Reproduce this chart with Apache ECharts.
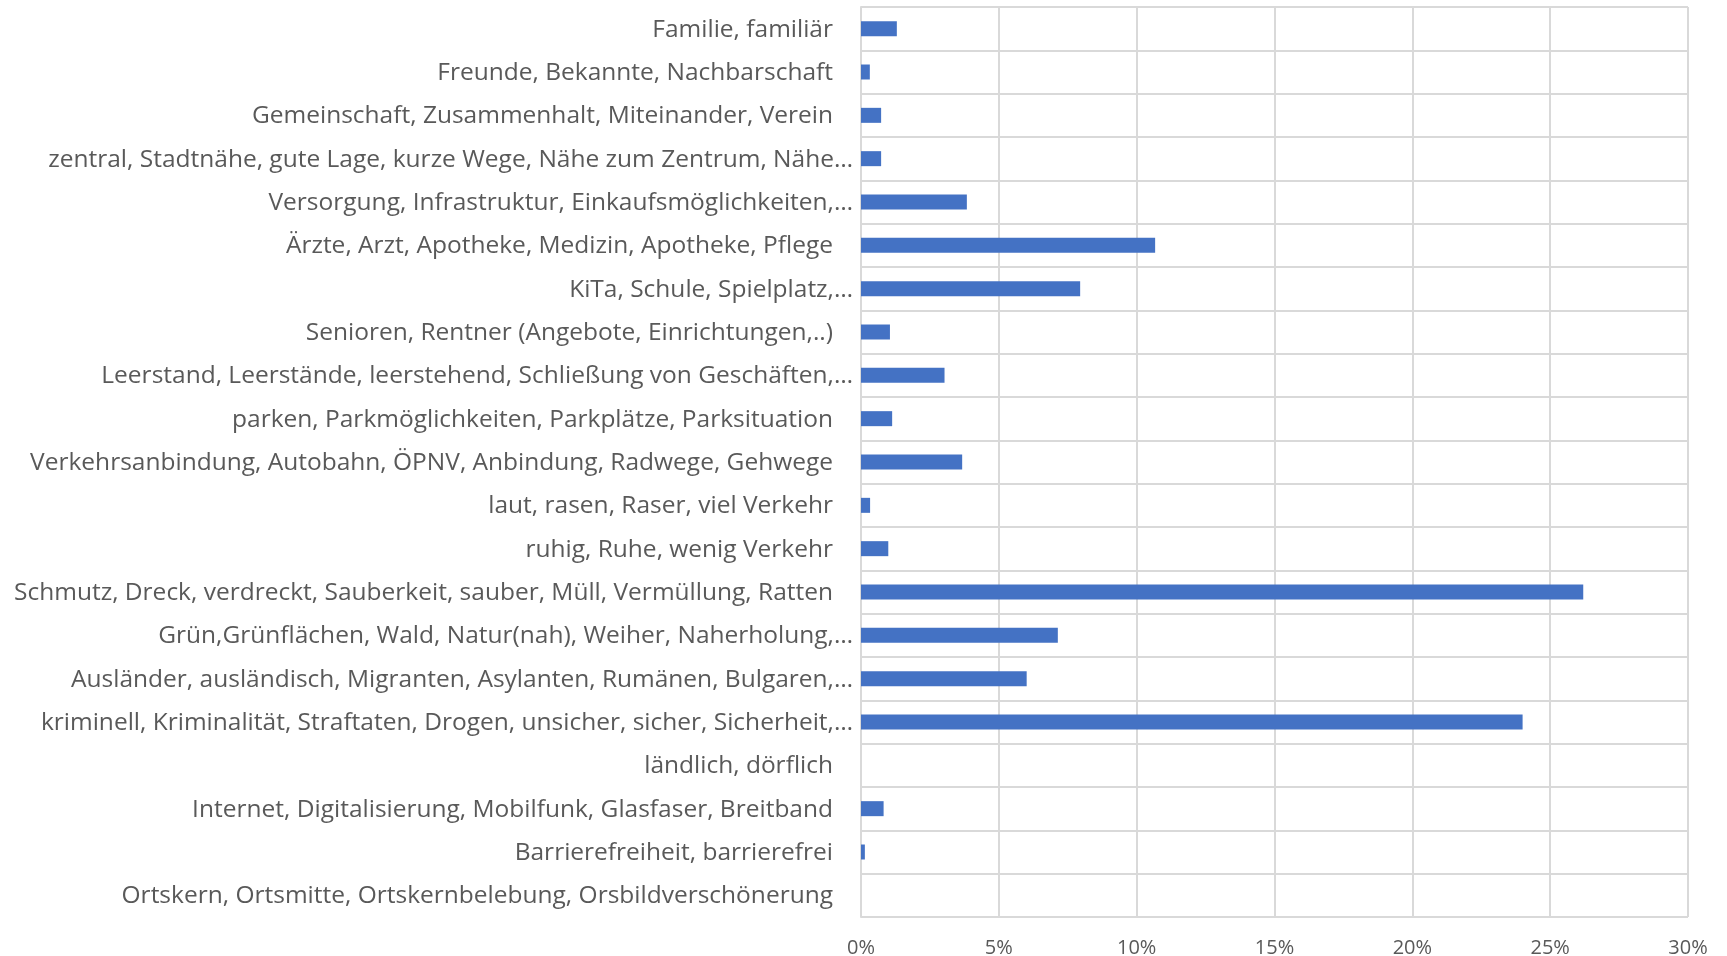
<!DOCTYPE html>
<html>
<head>
<meta charset="utf-8">
<script src="https://cdn.jsdelivr.net/npm/echarts@6/dist/echarts.min.js"></script>
<style>
html,body{margin:0;padding:0;background:#fff;}
#chart{width:1727px;height:956px;}
</style>
</head>
<body>
<div id="chart"></div>
<script>
// Categories listed top to bottom as in the reference
const categories = [
  "Familie, familiär",
  "Freunde, Bekannte, Nachbarschaft",
  "Gemeinschaft, Zusammenhalt, Miteinander, Verein",
  "zentral, Stadtnähe, gute Lage, kurze Wege, Nähe zum Zentrum, Nähe…",
  "Versorgung, Infrastruktur, Einkaufsmöglichkeiten,…",
  "Ärzte, Arzt, Apotheke, Medizin, Apotheke, Pflege",
  "KiTa, Schule, Spielplatz,…",
  "Senioren, Rentner (Angebote, Einrichtungen,..)",
  "Leerstand, Leerstände, leerstehend, Schließung von Geschäften,…",
  "parken, Parkmöglichkeiten, Parkplätze, Parksituation",
  "Verkehrsanbindung, Autobahn, ÖPNV, Anbindung, Radwege, Gehwege",
  "laut, rasen, Raser, viel Verkehr",
  "ruhig, Ruhe, wenig Verkehr",
  "Schmutz, Dreck, verdreckt, Sauberkeit, sauber, Müll, Vermüllung, Ratten",
  "Grün,Grünflächen, Wald, Natur(nah), Weiher, Naherholung,…",
  "Ausländer, ausländisch, Migranten, Asylanten, Rumänen, Bulgaren,…",
  "kriminell, Kriminalität, Straftaten, Drogen, unsicher, sicher, Sicherheit,…",
  "ländlich, dörflich",
  "Internet, Digitalisierung, Mobilfunk, Glasfaser, Breitband",
  "Barrierefreiheit, barrierefrei",
  "Ortskern, Ortsmitte, Ortskernbelebung, Orsbildverschönerung"
];
// Shares in percent, same order
const shares = [
  1.30, 0.32, 0.73, 0.73, 3.84, 10.67, 7.95, 1.05, 3.03, 1.13, 3.67,
  0.33, 0.99, 26.2, 7.14, 6.01, 24.0, 0, 0.82, 0.14, 0
];
const xTicks = [0, 5, 10, 15, 20, 25, 30];

const chart = echarts.init(document.getElementById('chart'));
const FONT = "'Open Sans', 'Noto Sans', sans-serif";
const LBL = 24.5;
chart.setOption({
  animation: false,
  backgroundColor: '#ffffff',
  grid: { left: 861, top: 7, right: 39, bottom: 39, containLabel: false, outerBoundsMode: 'none' },
  xAxis: {
    type: 'value',
    min: xTicks[0],
    max: xTicks[xTicks.length - 1],
    interval: 5,
    axisLine: { show: false },
    axisTick: { show: false },
    splitLine: { show: true, lineStyle: { color: '#d9d9d9', width: 2 } },
    axisLabel: {
      color: '#595959',
      fontFamily: FONT,
      fontSize: 20,
      margin: 21,
      formatter: v => v + '%'
    }
  },
  yAxis: {
    type: 'category',
    data: categories.slice().reverse(),
    boundaryGap: true,
    axisLine: { show: true, lineStyle: { color: '#d9d9d9', width: 2 } },
    axisTick: { show: false },
    splitLine: { show: true, lineStyle: { color: '#d9d9d9', width: 2 } },
    axisLabel: {
      interval: 0,
      color: '#595959',
      fontFamily: FONT,
      fontSize: LBL,
      margin: 8,
      formatter: function (v) {
        return v.endsWith('…') ? '{e|' + v + '}' : '{n|' + v + '}';
      },
      rich: {
        e: { color: '#595959', fontFamily: FONT, fontSize: LBL, padding: [2, 0, 0, 0] },
        n: { color: '#595959', fontFamily: FONT, fontSize: LBL, padding: [2, 20, 0, 0] }
      }
    }
  },
  series: [{
    type: 'bar',
    data: shares.slice().reverse(),
    barWidth: 15,
    itemStyle: { color: '#4472c4' }
  }]
});
</script>
</body>
</html>
